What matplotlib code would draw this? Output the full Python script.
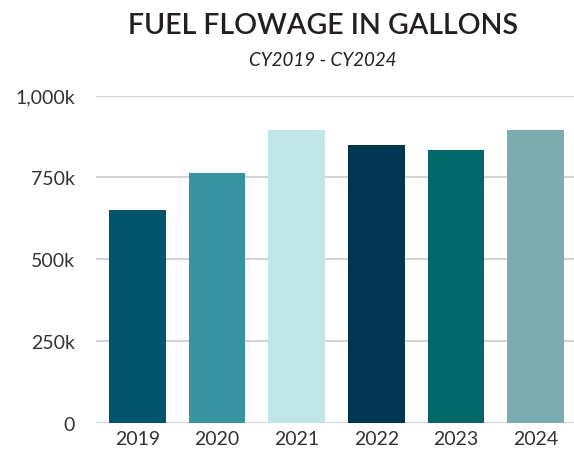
import matplotlib
matplotlib.use("Agg")
from matplotlib import pyplot as plt
from matplotlib.ticker import FuncFormatter

years = ['2019', '2020', '2021', '2022', '2023', '2024']
gallons = [650000, 763000, 895000, 849000, 834000, 895000]
bar_colors = ['#02546F', '#3793A0', '#C0E5E7', '#013651', '#006868', '#7AACB0']
y_ticks = [0, 250000, 500000, 750000, 1000000]

plt.rcParams['font.family'] = ['Lato', 'DejaVu Sans']

fig = plt.figure(figsize=(5.74, 4.56), dpi=100)
ax = fig.add_axes([96 / 574, 32 / 456, 1 - 96 / 574, (424 - 96.5) / 456])

ax.bar(range(len(years)), gallons, width=0.71, color=bar_colors, zorder=3)
ax.set_xlim(-0.52, 5.48)
ax.set_ylim(0, 1000000)
ax.set_yticks(y_ticks)
ax.yaxis.set_major_formatter(FuncFormatter(lambda v, p: '0' if v == 0 else f'{v / 1000:,.0f}k'))
ax.set_xticks(range(len(years)))
ax.set_xticklabels(years)
ax.grid(axis='y', color='#d4d4d4', linewidth=1.5, zorder=0)
ax.set_axisbelow(True)
for s in ax.spines.values():
    s.set_visible(False)
ax.tick_params(axis='both', length=0, labelsize=14, labelcolor='#333333')
ax.tick_params(axis='y', pad=15)
ax.tick_params(axis='x', pad=5)

fig.text(0.563, 0.943, 'FUEL FLOWAGE IN GALLONS', ha='center', va='center',
         fontsize=20.5, weight='semibold', color='#231f20')
fig.text(0.563, 0.868, 'CY2019 - CY2024', ha='center', va='center',
         fontsize=13.5, style='italic', color='#231f20')

plt.savefig('out.png', dpi=100)
